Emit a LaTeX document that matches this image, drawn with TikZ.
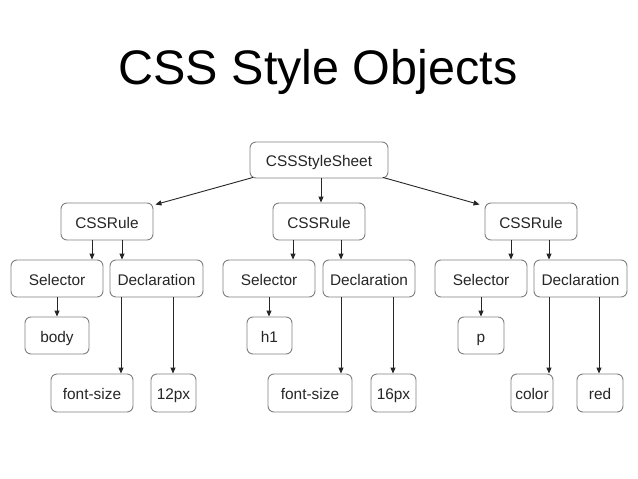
\documentclass[tikz,border=0pt]{standalone}
\usepackage{fontspec}
\setmainfont{Liberation Sans}
\usetikzlibrary{arrows.meta}
\begin{document}
\begin{tikzpicture}[x=1pt,y=-1pt,
  box/.style={draw=black!50,line width=0.9pt,rounded corners=6pt,inner sep=0pt,
    minimum height=37pt,font=\fontsize{15.4}{17}\selectfont,text=black!85,
    text height=13pt,text depth=0pt},
  arr/.style={draw=black!85,line width=0.9pt,-{Triangle[length=6pt,width=5pt]}}]
\useasboundingbox[fill=white] (0,0) rectangle (638,479);
\node[font=\fontsize{48.5}{52}\selectfont,anchor=base] (title) at (318,84.5) {CSS Style Objects};
% nodes
\node[box,minimum width=138pt,minimum height=36pt] (sheet) at (319,160) {CSSStyleSheet};
\node[box,minimum width=92pt] (ruleL) at (107,221.5) {CSSRule};
\node[box,minimum width=92pt] (ruleM) at (319,221.5) {CSSRule};
\node[box,minimum width=92pt] (ruleR) at (531,221.5) {CSSRule};
\node[box,minimum width=92pt] (selL) at (57,278.5) {Selector};
\node[box,minimum width=93pt] (decL) at (156.5,278.5) {Declaration};
\node[box,minimum width=92pt] (selM) at (269,278.5) {Selector};
\node[box,minimum width=92pt] (decM) at (369,278.5) {Declaration};
\node[box,minimum width=92pt] (selR) at (481,278.5) {Selector};
\node[box,minimum width=93pt] (decR) at (580.5,278.5) {Declaration};
\node[box,minimum width=64pt] (body) at (57,335.5) {body};
\node[box,minimum width=45pt] (hone) at (269.5,335.5) {h1};
\node[box,minimum width=46pt] (pp) at (481,335.5) {p};
\node[box,minimum width=82pt,minimum height=38pt] (fsL) at (92,393) {font-size};
\node[box,minimum width=45pt,minimum height=38pt] (pxA) at (173.5,393) {12px};
\node[box,minimum width=84pt,minimum height=38pt] (fsM) at (310,393) {font-size};
\node[box,minimum width=45pt,minimum height=38pt] (pxB) at (393.5,393) {16px};
\node[box,minimum width=42pt,minimum height=38pt] (col) at (532,393) {color};
\node[box,minimum width=46pt,minimum height=38pt] (red) at (600,393) {red};
% x positions of vertical connectors
\coordinate (xa) at (92,0);
\coordinate (xb) at (122,0);
\coordinate (xc) at (121,0);
\coordinate (xd) at (173,0);
\coordinate (xe) at (293,0);
\coordinate (xf) at (341,0);
\coordinate (xg) at (269,0);
\coordinate (xh) at (393,0);
\coordinate (xi) at (511,0);
\coordinate (xj) at (549,0);
\coordinate (xk) at (481,0);
\coordinate (xl) at (599,0);
\coordinate (xm) at (321,0);
% connectors
\draw[arr] ([xshift=-66pt,yshift=1pt]sheet.south) -- ([xshift=2pt,yshift=-2pt]ruleL.north east);
\draw[arr] (sheet.south -| xm) -- (ruleM.north -| xm);
\draw[arr] ([xshift=64pt,yshift=1pt]sheet.south) -- ([xshift=-5pt,yshift=-2pt]ruleR.north west);
\draw[arr] (ruleL.south -| xa) -- (selL.north -| xa);
\draw[arr] (ruleL.south -| xb) -- (decL.north -| xb);
\draw[arr] (selL.south) -- (body.north);
\draw[arr] (decL.south -| xc) -- (fsL.north -| xc);
\draw[arr] (decL.south -| xd) -- (pxA.north -| xd);
\draw[arr] (ruleM.south -| xe) -- (selM.north -| xe);
\draw[arr] (ruleM.south -| xf) -- (decM.north -| xf);
\draw[arr] (selM.south -| xg) -- (hone.north -| xg);
\draw[arr] (decM.south -| xf) -- (fsM.north -| xf);
\draw[arr] (decM.south -| xh) -- (pxB.north -| xh);
\draw[arr] (ruleR.south -| xi) -- (selR.north -| xi);
\draw[arr] (ruleR.south -| xj) -- (decR.north -| xj);
\draw[arr] (selR.south -| xk) -- (pp.north -| xk);
\draw[arr] (decR.south -| xj) -- (col.north -| xj);
\draw[arr] (decR.south -| xl) -- (red.north -| xl);
\end{tikzpicture}
\end{document}
